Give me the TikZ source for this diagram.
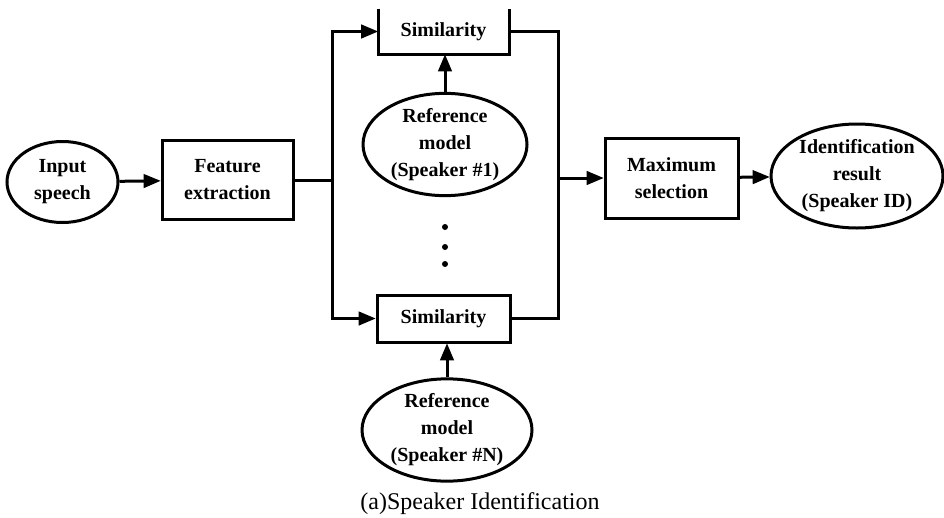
\documentclass[tikz,border=0pt]{standalone}
\usepackage{fontspec}
\setmainfont{Liberation Serif}
\usetikzlibrary{positioning, calc, shapes.geometric}
\usetikzlibrary{arrows}

\begin{document}
\begin{tikzpicture}[x=1pt, y=-1pt, font=\fontsize{20}{27}\selectfont\bfseries, align=center, >=triangle 45, line width=3pt,
        block/.style={draw, rectangle, minimum width=131pt, minimum height=79pt, inner sep=0pt},
        blob/.style={draw, ellipse, inner sep=0pt}]
        \useasboundingbox (0,0) rectangle (944,517);

        % Nodes
        \node[blob, minimum width=111pt, minimum height=81pt] (input) at (62.5,182) {Input\\speech};
        \node[block] (feature) at (227.5,180) {Feature\\extraction};
        \node[block, draw=none, minimum width=128pt, minimum height=43pt] (sim1) at (443.5,31.5) {Similarity};
        \node[block, minimum width=133pt, minimum height=47pt] (sim2) at (443.5,318.5) {Similarity};
        \node[blob, minimum width=164pt, minimum height=95pt] (ref1) at (445,144.5) {Reference\\model\\(Speaker \#1)};
        \node[blob, minimum width=170pt, minimum height=100pt] (refN) at (447,430) {Reference\\model\\(Speaker \#N)};
        \node[block, minimum width=133pt, minimum height=80pt] (maxsel) at (671.5,178) {Maximum\\selection};
        \node[blob, minimum width=172pt, minimum height=104pt] (ident) at (857,176) {Identification\\result\\(Speaker ID)};
        \foreach \y [count=\i] in {227,247,264} {
            \node[circle, fill, inner sep=0pt, minimum size=6pt] (dot\i) at (445,\y) {};
        }
        \node[font=\fontsize{24}{28}\selectfont] (caption) at (480,504) {(a)Speaker Identification};

        \coordinate (split) at (332,180);
        \coordinate (join) at (558,178);

        % top box is cut off, so only three sides
        \draw (sim1.north west) -- (sim1.south west) -- (sim1.south east) -- (sim1.north east);

        % Edges
        \draw[->] (input) -- (feature);
        \draw (feature.east) -- (split);
        \draw[->] (split) |- (sim1.west);
        \draw[->] (split) |- (sim2.west);
        \draw (sim1.east) -| (join);
        \draw (sim2.east) -| (join);
        \draw[->] (join) -- (maxsel.west);
        \draw[->] (maxsel) -- (ident);
        \draw[->] (ref1.north) -- (ref1.north |- sim1.south);
        \draw[->] (refN.north) -- (refN.north |- sim2.south);
\end{tikzpicture}
\end{document}
